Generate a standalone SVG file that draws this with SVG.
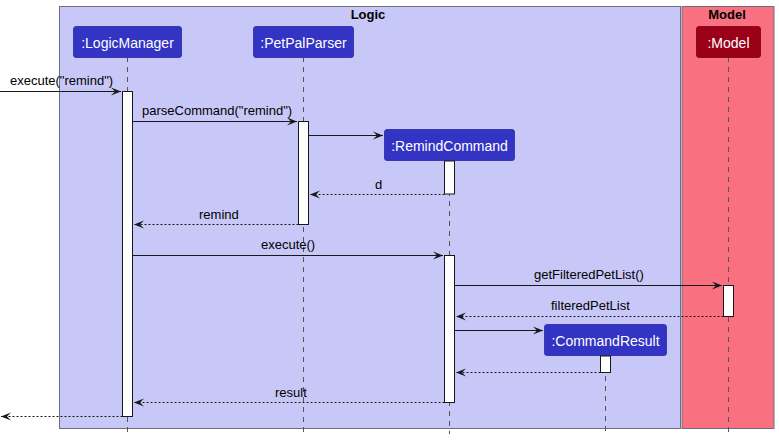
<svg xmlns="http://www.w3.org/2000/svg" width="779" height="440" viewBox="0 0 779 440">
<defs>
<style>
.t{font-family:"Liberation Sans",Arial,sans-serif;font-size:13px;fill:#000}
.pt{font-family:"Liberation Sans",Arial,sans-serif;font-size:14px;fill:#fff;text-anchor:middle}
.bt{font-family:"Liberation Sans",Arial,sans-serif;font-size:13px;font-weight:bold;fill:#000;text-anchor:middle}
.life{stroke:#555;stroke-width:1;stroke-dasharray:5,5;fill:none}
.act{fill:#fff;stroke:#181818;stroke-width:1}
.pb{fill:#3333C4;stroke:#2A2AA0;stroke-width:0.8}
.pm{fill:#9A0018;stroke:#7A0010;stroke-width:0.8}
.msg{stroke:#181818;stroke-width:1;fill:none}
.ret{stroke:#181818;stroke-width:1;fill:none;stroke-dasharray:2,2}
</style>
<marker id="ah" markerWidth="12" markerHeight="10" refX="11" refY="5" orient="auto" markerUnits="userSpaceOnUse">
<polygon points="1,1 11,5 1,9 5,5" fill="#181818"/>
</marker>
</defs>
<rect width="779" height="440" fill="#fff"/>
<g id="box-logic">
<rect x="59.5" y="6.5" width="621" height="422" fill="#C8C8F8" stroke="#6E6E80" stroke-width="1"/>
<text class="bt" x="368" y="19">Logic</text>
</g>
<g id="box-model">
<rect x="682" y="6.5" width="92" height="422" fill="#F97181" stroke="#6E6E80" stroke-width="1"/>
<text class="bt" x="727" y="19">Model</text>
</g>
<g id="lifelines">
<line class="life" x1="127.5" y1="57" x2="127.5" y2="434"/>
<line class="life" x1="303.5" y1="57" x2="303.5" y2="434"/>
<line class="life" x1="449.5" y1="161" x2="449.5" y2="434"/>
<line class="life" x1="605.5" y1="356" x2="605.5" y2="434"/>
<line class="life" x1="728.5" y1="57" x2="728.5" y2="434"/>
</g>
<g id="LogicManager">
<rect class="pb" x="73.5" y="26.5" width="108" height="31" rx="2.5"/>
<text class="pt" x="127.5" y="47.5">:LogicManager</text>
<rect class="act" x="122.5" y="91.5" width="10" height="325"/>
</g>
<g id="PetPalParser">
<rect class="pb" x="253.5" y="26.5" width="100" height="31" rx="2.5"/>
<text class="pt" x="303.5" y="47.5">:PetPalParser</text>
<rect class="act" x="298.5" y="121.5" width="10" height="103"/>
</g>
<g id="RemindCommand">
<rect class="pb" x="384.5" y="129.5" width="130" height="31" rx="2.5"/>
<text class="pt" x="449.5" y="150.5">:RemindCommand</text>
<rect class="act" x="444.5" y="161" width="10" height="33"/>
<rect class="act" x="444.5" y="255.5" width="10" height="147"/>
</g>
<g id="Model">
<rect class="pm" x="696.5" y="26.5" width="64" height="31" rx="2.5"/>
<text class="pt" x="728.5" y="47.5">:Model</text>
<rect class="act" x="723.5" y="285.5" width="10" height="31"/>
</g>
<g id="CommandResult">
<rect class="pb" x="544.5" y="324.5" width="122" height="31" rx="2.5"/>
<text class="pt" x="605.5" y="345.5">:CommandResult</text>
<rect class="act" x="600.5" y="356" width="10" height="16.5"/>
</g>
<g id="connectors">
<line class="msg" x1="0" y1="91.5" x2="121" y2="91.5" marker-end="url(#ah)"/>
<text class="t" x="10" y="85">execute("remind")</text>
<line class="msg" x1="132.5" y1="121.5" x2="297" y2="121.5" marker-end="url(#ah)"/>
<text class="t" x="142" y="115">parseCommand("remind")</text>
<line class="msg" x1="308.5" y1="135.5" x2="383" y2="135.5" marker-end="url(#ah)"/>
<line class="ret" x1="444.5" y1="194.5" x2="310" y2="194.5" marker-end="url(#ah)"/>
<text class="t" x="375" y="189">d</text>
<line class="ret" x1="298.5" y1="224.5" x2="134" y2="224.5" marker-end="url(#ah)"/>
<text class="t" x="199" y="219">remind</text>
<line class="msg" x1="132.5" y1="255.5" x2="443" y2="255.5" marker-end="url(#ah)"/>
<text class="t" x="261" y="249">execute()</text>
<line class="msg" x1="454.5" y1="285.5" x2="722" y2="285.5" marker-end="url(#ah)"/>
<text class="t" x="534" y="279">getFilteredPetList()</text>
<line class="ret" x1="723.5" y1="316.5" x2="456" y2="316.5" marker-end="url(#ah)"/>
<text class="t" x="551" y="310">filteredPetList</text>
<line class="msg" x1="454.5" y1="330.5" x2="543" y2="330.5" marker-end="url(#ah)"/>
<line class="ret" x1="600.5" y1="372.5" x2="456" y2="372.5" marker-end="url(#ah)"/>
<line class="ret" x1="444.5" y1="402.5" x2="134" y2="402.5" marker-end="url(#ah)"/>
<text class="t" x="275" y="397">result</text>
<line class="ret" x1="122.5" y1="416.5" x2="1" y2="416.5" marker-end="url(#ah)"/>
</g>
</svg>
